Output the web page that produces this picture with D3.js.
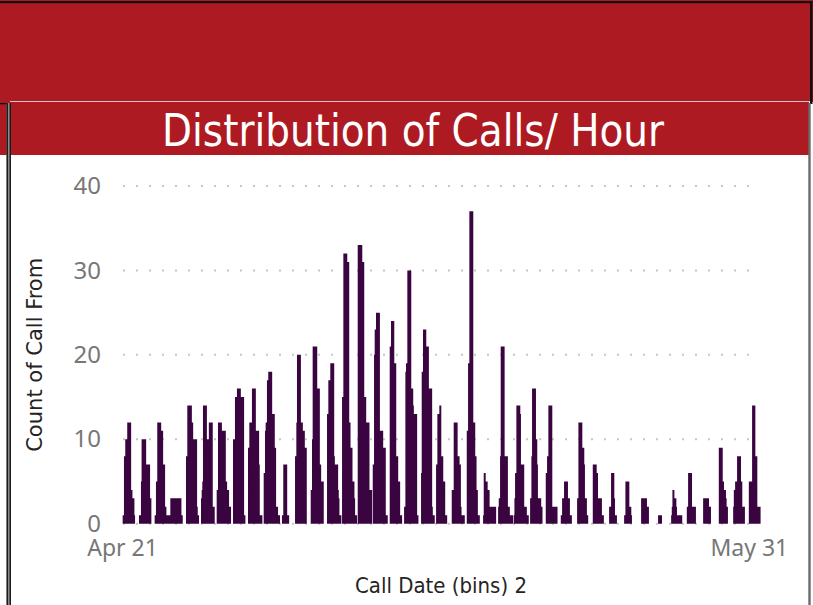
<!DOCTYPE html>
<html>
<head>
<meta charset="utf-8">
<script src="https://cdn.jsdelivr.net/npm/d3@7"></script>
<style>
  html, body { margin: 0; padding: 0; background: #fff; }
  svg { display: block; }
</style>
</head>
<body>
<svg id="chart" width="813" height="605"></svg>
<script>
const firstDay = "2019-04-21";
const tickDays = ["2019-04-21", "2019-05-31"];
const yTicks = [0, 10, 20, 30, 40];
const chartTitle = "Distribution of Calls/ Hour";
const xTitle = "Call Date (bins) 2";
const yTitle = "Count of Call From";

// calls per hour, one row per day from Apr 21, index = hour of the day
const callsPerHour = [
  [0,1,1,8,8,10,10,10,12,12,12,12,12,12,4,4,3,3,3,1],
  [0,0,1,1,1,5,10,10,10,10,10,10,10,7,7,7,7,7,7,3,3],
  [0,0,1,1,5,5,12,12,12,12,12,12,11,11,11,7,7,7,2,2,1,1,1,1],
  [1,1,3,3,3,3,3,3,3,3,3,3,3,3,3,3,3,3,3,1,1],
  [0,0,8,8,14,14,14,14,14,14,14,12,12,10,10,10,10,10,10,2,1,1],
  [0,3,4,5,14,14,14,14,14,14,10,10,10,12,12,12,12,12,12,2,2,2],
  [0,4,4,12,12,12,12,12,12,11,11,11,11,11,11,5,5,4,4,4,2,2,2],
  [0,0,10,10,10,15,15,15,16,16,16,16,16,16,15,15,15,15,15,1,1],
  [0,9,9,12,12,12,12,16,16,16,16,16,16,11,11,11,11,11,7,1,1,1,1],
  [0,6,6,11,12,12,17,17,18,18,18,18,18,18,13,13,13,13,9,9,2,2,2,1],
  [1,1,0,0,0,1,1,7,7,7,7,7,7,1,1,1],
  [0,8,8,12,20,20,20,20,20,20,12,12,12,11,11,11,9,9,9],
  [0,4,4,10,21,21,21,21,21,21,21,16,16,16,16,7,7,5,5,5,5],
  [0,0,13,13,17,17,17,19,19,19,19,19,19,8,7,7,7,7,7,4,3,1,1,1],
  [0,15,15,32,32,32,32,32,32,31,31,31,12,12,9,9,9,5,5,5,3,1,1,1],
  [0,33,33,33,33,33,33,33,31,31,31,15,15,15,12,12,12,12,12,4,4,4,4],
  [7,7,20,23,23,25,25,25,25,25,25,11,11,11,11,11,9,9,9,9,1,1,1],
  [0,0,21,21,24,24,24,24,24,19,19,19,8,8,8,5,5,5,1,1,1],
  [2,2,18,19,19,30,30,30,30,30,30,16,16,16,14,13,13,13,13,13,1,1],
  [0,0,6,18,18,23,23,23,23,23,21,21,21,21,16,16,16,16,16,2,1,1,1],
  [0,7,7,13,13,13,14,14,14,8,8,8,5,5,5,1,1,1],
  [0,4,4,4,12,12,12,12,12,12,8,8,8,7,7,2,1,1,1,1,1],
  [11,11,19,19,37,37,37,37,37,37,12,12,12,8,8,4,4,1,1,1],
  [0,1,6,6,6,5,5,5,4,4,4,2,2,2,2,2,2,2,2,2,2],
  [2,3,3,8,21,21,21,21,21,21,8,8,8,8,8,2,2,2,1,1,1,1,1],
  [1,3,6,6,14,14,14,14,14,14,13,7,7,7,7,7,2,2,2,2,1,1,1],
  [0,3,3,8,16,16,16,16,16,16,10,10,7,3,3,3,3,3,2,2],
  [0,6,6,8,8,14,14,14,14,14,14,2,2,2,2,2,2,2,2],
  [1,1,3,3,3,5,5,5,5,5,5,3,3,3,1,1,1],
  [0,3,3,12,12,12,12,12,12,9,9,9,7,3,3,3,1,1],
  [0,7,7,7,7,7,7,6,6,3,3,3,3,3,3,1,1,1],
  [0,0,2,2,2,6,6,6,6,6,3,1,1,1],
  [0,1,1,5,5,5,5,5,5,2,2,2,1],
  [0,0,0,3,3,3,3,3,3,3,3,3,2,2,2],
  [0,0,0,0,0,1,1,1,1,1,1],
  [0,1,2,4,4,4,3,3,3,2,1,1,1,1,1,1,1,1],
  [0,2,2,6,6,6,6,6,6,2,2,2,2,2,2],
  [0,0,3,3,3,3,3,3,3,3,3,2,2,2],
  [0,0,9,9,9,9,9,9,5,5,4,4,4,3,2,2],
  [2,4,4,5,5,5,8,8,8,8,8,8,5,5,2,2,2,2],
  [5,5,5,5,5,14,14,14,14,14,8,8,8,2,2,2,2,2]
];

const red = "#ad1a21";
const barColor = "#3a0440";
const parseDay = d3.utcParse("%Y-%m-%d");
const start = parseDay(firstDay);
const end = d3.utcDay.offset(start, callsPerHour.length);

// flatten to one point per hour
const series = [];
callsPerHour.forEach((row, d) => {
  for (let h = 0; h < 24; h++) {
    series.push({ t: d3.utcHour.offset(start, d * 24 + h), v: row[h] || 0 });
  }
});
series.push({ t: end, v: 0 });

const x = d3.scaleUtc().domain([start, end]).range([122, 764.5]);
const y = d3.scaleLinear().domain([0, 40]).range([523.7, 186]);

const svg = d3.select("#chart");

// page frame
svg.append("rect").attr("x", 0).attr("y", 0).attr("width", 813).attr("height", 102).attr("fill", red);
svg.append("rect").attr("x", 0).attr("y", 1).attr("width", 812).attr("height", 2.2).attr("fill", "#111");
svg.append("rect").attr("x", 810).attr("y", 1).attr("width", 2.5).attr("height", 103).attr("fill", "#111");
svg.append("line").attr("x1", 10).attr("x2", 810).attr("y1", 101.5).attr("y2", 101.5)
  .attr("stroke", "#d8c4c4").attr("stroke-width", 1.2);

// title band of the visual
svg.append("rect").attr("x", 0).attr("y", 102).attr("width", 809).attr("height", 53).attr("fill", red);
svg.append("rect").attr("x", 0).attr("y", 103).attr("width", 10).attr("height", 1.3).attr("fill", "#111");
svg.append("rect").attr("x", 6.5).attr("y", 103).attr("width", 4.5).attr("height", 502).attr("fill", "#8a8a8a");
svg.append("rect").attr("x", 6.6).attr("y", 103).attr("width", 1.3).attr("height", 502).attr("fill", "#111");
svg.append("rect").attr("x", 9.6).attr("y", 103).attr("width", 1.3).attr("height", 502).attr("fill", "#111");
svg.append("rect").attr("x", 808.3).attr("y", 103).attr("width", 2.4).attr("height", 502).attr("fill", "#6a6a6a");

svg.append("text")
  .attr("x", 413).attr("y", 146)
  .attr("text-anchor", "middle")
  .attr("fill", "#fff")
  .attr("textLength", 502)
  .attr("lengthAdjust", "spacingAndGlyphs")
  .style("font-family", "'DejaVu Sans Condensed', 'Liberation Sans Narrow', sans-serif")
  .style("font-size", "44px")
  .text(chartTitle);

// dotted gridlines
svg.append("g")
  .selectAll("line")
  .data(yTicks)
  .join("line")
  .attr("x1", 123).attr("x2", 760)
  .attr("y1", d => y(d)).attr("y2", d => y(d))
  .attr("stroke", "#c6c6c6")
  .attr("stroke-width", 2)
  .attr("stroke-dasharray", "2 11");

// hourly bars as one stepped shape
const area = d3.area()
  .x(d => x(d.t))
  .y0(y(0))
  .y1(d => y(d.v))
  .curve(d3.curveStepAfter);

svg.append("path")
  .datum(series)
  .attr("d", area)
  .attr("fill", barColor);

// y axis labels
const yAxis = d3.axisLeft(y).tickValues(yTicks).tickSize(0).tickPadding(0);
const yg = svg.append("g").attr("transform", "translate(101,0)").call(yAxis);
yg.select(".domain").remove();
yg.selectAll("text")
  .attr("fill", "#777")
  .style("font-family", "'Noto Sans', 'Open Sans', sans-serif")
  .style("font-size", "24px");

// x axis labels
const xAxis = d3.axisBottom(x)
  .tickValues(tickDays.map(parseDay))
  .tickFormat(d3.utcFormat("%b %-d"))
  .tickSize(0).tickPadding(0);
const xg = svg.append("g").attr("transform", "translate(0,540)").call(xAxis);
xg.select(".domain").remove();
xg.selectAll("text")
  .attr("fill", "#777")
  .style("font-family", "'Noto Sans', 'Open Sans', sans-serif")
  .style("font-size", "23px");

// axis titles
svg.append("text")
  .attr("x", 441).attr("y", 593)
  .attr("text-anchor", "middle")
  .attr("fill", "#252423")
  .attr("textLength", 172)
  .attr("lengthAdjust", "spacingAndGlyphs")
  .style("font-family", "'DejaVu Sans Condensed', sans-serif")
  .style("font-size", "21px")
  .text(xTitle);

svg.append("text")
  .attr("transform", `translate(42,${(y(0) + y(40)) / 2}) rotate(-90)`)
  .attr("text-anchor", "middle")
  .attr("fill", "#252423")
  .attr("textLength", 194)
  .attr("lengthAdjust", "spacingAndGlyphs")
  .style("font-family", "'DejaVu Sans Condensed', sans-serif")
  .style("font-size", "21px")
  .text(yTitle);
</script>
</body>
</html>
